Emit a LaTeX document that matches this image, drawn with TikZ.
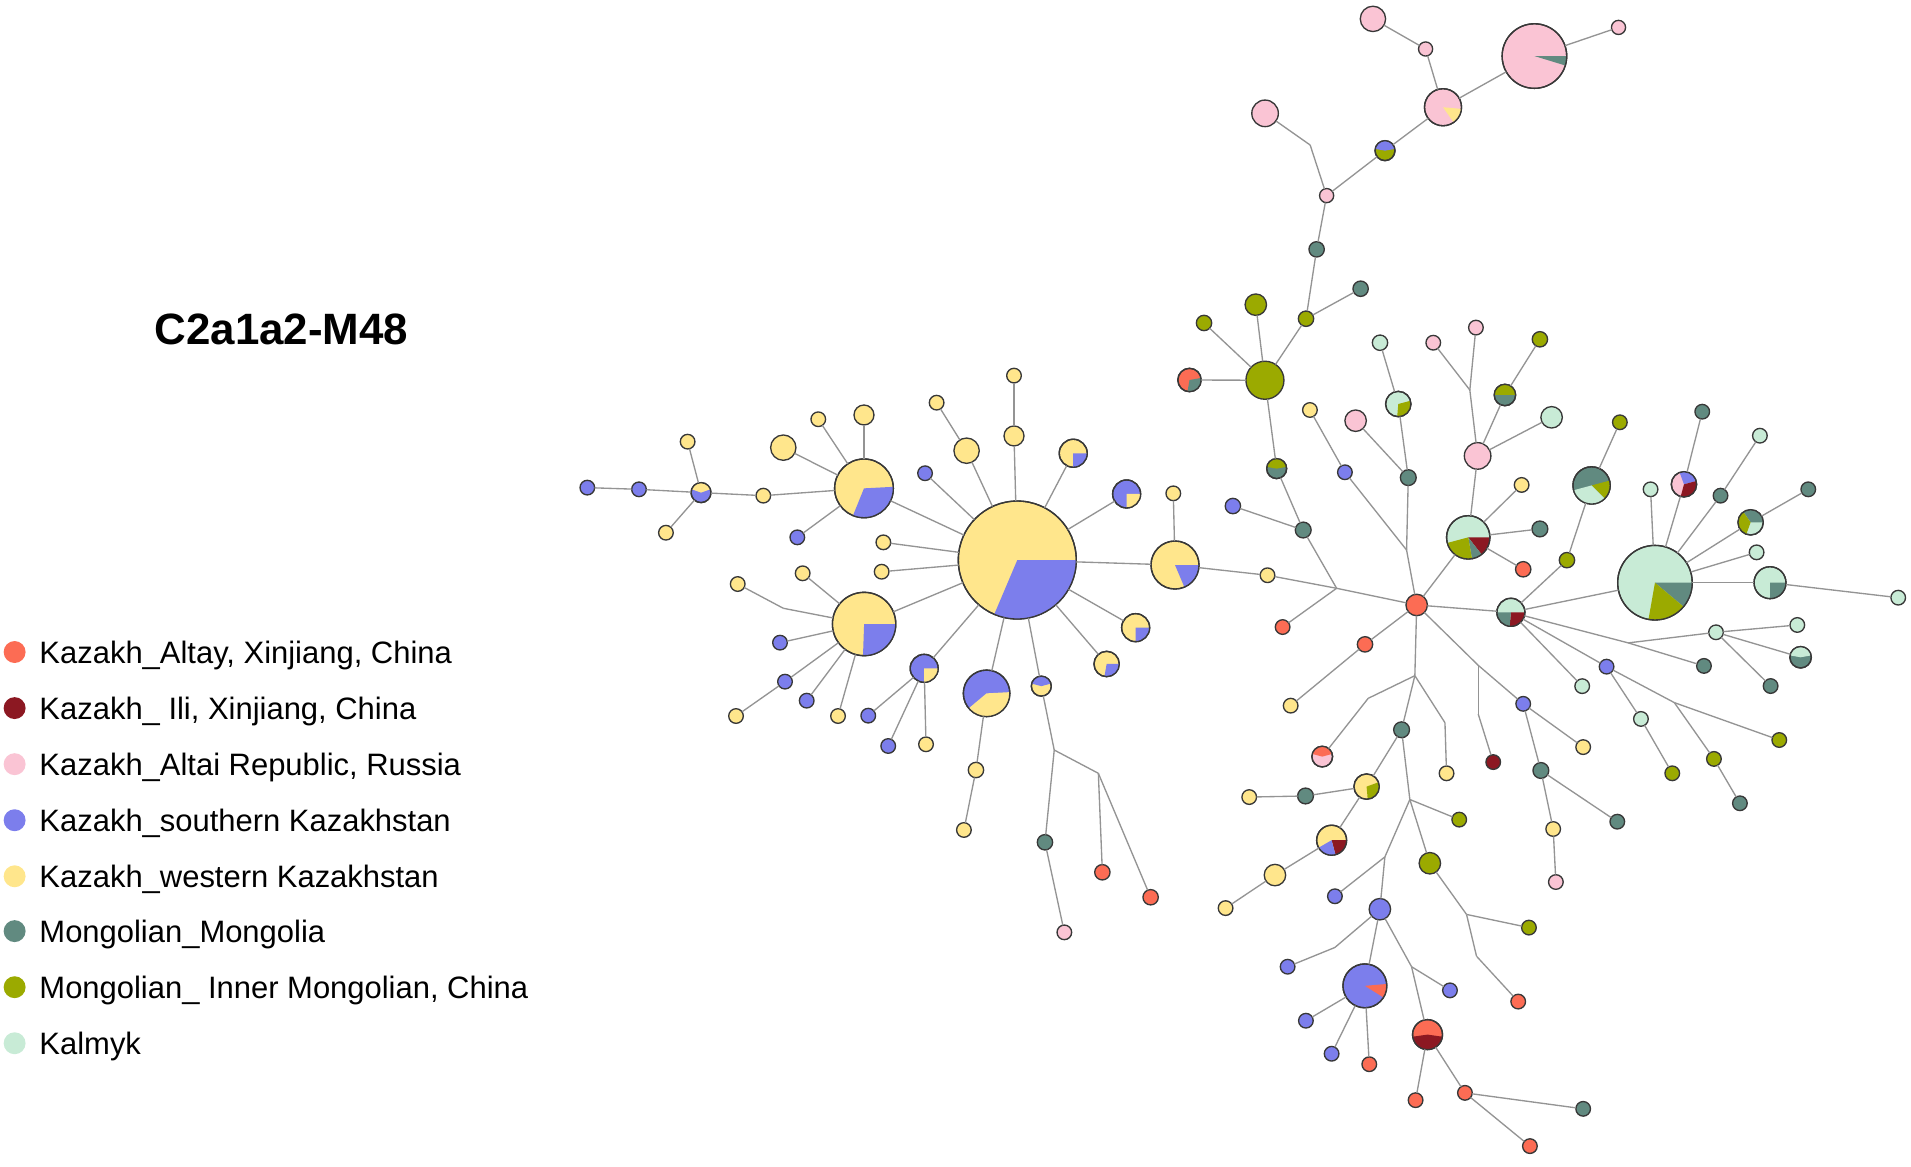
\documentclass[tikz,border=0pt]{standalone}
\usepackage{fontspec}
\setmainfont{Liberation Sans}
\definecolor{cAlt}{RGB}{252,108,84}
\definecolor{cIli}{RGB}{140,24,34}
\definecolor{cPnk}{RGB}{250,196,212}
\definecolor{cBlu}{RGB}{124,126,236}
\definecolor{cYel}{RGB}{255,230,140}
\definecolor{cMon}{RGB}{97,138,128}
\definecolor{cOli}{RGB}{155,170,0}
\definecolor{cKal}{RGB}{200,235,214}
\tikzset{
 hapnode/.style={circle,draw=black!78,line width=0.55pt,inner sep=0pt,outer sep=0pt},
 hapline/.style={draw=black!78,line width=0.55pt},
 edge/.style={draw=black!42,line width=0.55pt},
 legdot/.style={circle,inner sep=0pt,minimum size=9pt},
 legtext/.style={anchor=base west,font=\fontsize{12.7}{15}\selectfont,inner sep=0pt},
}
\newcommand\hap[5]{\node[hapnode,minimum size=#4pt,fill=#5] (#1) at (#2,#3) {};}
\newcommand\hpie[6]{\hap{#1}{#2}{#3}{#4}{#5}%
 \foreach \hc/\ha/\hb in {#6}{\fill[\hc] (#2,#3) -- ++(\ha:#4) arc[start angle=\ha,end angle=\hb,radius=#4] -- cycle;}%
 \draw[hapline] (#2,#3) circle[radius=#4];}
\begin{document}
\begin{tikzpicture}[x=0.5pt,y=-0.5pt]
\useasboundingbox (0,0) rectangle (1568,957);
% title
\node[anchor=base,font=\bfseries\fontsize{18}{22}\selectfont,inner sep=0pt] (title) at (231,283) {C2a1a2-M48};
% legend
\node[legdot,fill=cAlt] (L1) at (12,535) {};
\node[legtext] (T1) at (32,544) {Kazakh\_Altay, Xinjiang, China};
\node[legdot,fill=cIli] (L2) at (12,581) {};
\node[legtext] (T2) at (32,590) {Kazakh\_ Ili, Xinjiang, China};
\node[legdot,fill=cPnk] (L3) at (12,627) {};
\node[legtext] (T3) at (32,636) {Kazakh\_Altai Republic, Russia};
\node[legdot,fill=cBlu] (L4) at (12,673) {};
\node[legtext] (T4) at (32,682) {Kazakh\_southern Kazakhstan};
\node[legdot,fill=cYel] (L5) at (12,719) {};
\node[legtext] (T5) at (32,728) {Kazakh\_western Kazakhstan};
\node[legdot,fill=cMon] (L6) at (12,764) {};
\node[legtext] (T6) at (32,773) {Mongolian\_Mongolia};
\node[legdot,fill=cOli] (L7) at (12,810) {};
\node[legtext] (T7) at (32,819) {Mongolian\_ Inner Mongolian, China};
\node[legdot,fill=cKal] (L8) at (12,856) {};
\node[legtext] (T8) at (32,865) {Kalmyk};
% ---- top cluster
\hap{P1}{1126.5}{15.5}{10.4}{cPnk}
\hap{P2}{1169.7}{40.2}{5.8}{cPnk}
\hpie{P3}{1259}{46}{26.5}{cPnk}{cMon/0/17}
\hap{P4}{1328}{22.5}{5.8}{cPnk}
\hpie{P5}{1184}{88}{15.2}{cPnk}{cYel/5/55}
\hap{P6}{1038}{93}{10.9}{cPnk}
\coordinate (J1) at (1075,119);
\hap{P7}{1088.5}{160.5}{5.8}{cPnk}
\hpie{B1}{1136.4}{123.6}{8.2}{cOli}{cBlu/190/350}
\hap{M1}{1080.3}{204.6}{6.3}{cMon}
\hap{O1}{1071.6}{261.5}{6.3}{cOli}
\hap{M2}{1116.4}{236.9}{6.3}{cMon}
\hap{O2}{1030.4}{250}{8.8}{cOli}
\hap{O3}{987.9}{265}{6.3}{cOli}
\hap{O4}{1037.9}{312}{15.6}{cOli}
\hpie{R1}{976}{311.8}{9.6}{cAlt}{cMon/-10/100}
\hpie{MO1}{1047.5}{384.5}{8.2}{cMon}{cOli/190/350}
\hap{M3}{1069.3}{434.9}{6.5}{cMon}
\hap{Bl1}{1011.6}{415.2}{6.3}{cBlu}
\coordinate (J2) at (1096.7,482.7);
\hap{Y1}{1040}{472}{6}{cYel}
\hap{R2}{1052.4}{514.5}{6}{cAlt}
\hap{RC}{1162.4}{496.4}{8.8}{cAlt}
\hap{R3}{1120}{528.7}{6.3}{cAlt}
\hap{Y2}{1059}{579}{6}{cYel}
\hap{Y30}{1074.8}{336.4}{6}{cYel}
\hap{Bl2}{1103.5}{387.5}{6}{cBlu}
\coordinate (J3) at (1154.1,451.3);
\hap{M4}{1155.5}{391.9}{6.5}{cMon}
\hpie{KO1}{1147.3}{331.5}{10.4}{cKal}{cOli/-15/95}
\hap{K1}{1132.3}{281.2}{6.3}{cKal}
\hap{Pk1}{1112.3}{345.2}{8.8}{cPnk}
\hap{Pk2}{1176}{281.2}{6}{cPnk}
\hap{Pk3}{1211}{268.8}{6}{cPnk}
\coordinate (J4) at (1206,320);
\hap{Pk4}{1212.4}{374.1}{10.9}{cPnk}
\hpie{MO2}{1234.8}{324.1}{8.8}{cMon}{cOli/180/360}
\hap{O5}{1263.5}{278.4}{6.3}{cOli}
\hap{K2}{1273.1}{342.4}{8.8}{cKal}
\hpie{KMix}{1204.7}{440.9}{17.8}{cKal}{cIli/0/52,cMon/52/80,cOli/80/165}
\hap{Y3}{1248.5}{397.9}{6}{cYel}
\hap{M5}{1263.5}{434}{6.5}{cMon}
\hap{R4}{1249.8}{467.1}{6.3}{cAlt}
\hpie{KM2}{1239.7}{502.4}{11.5}{cKal}{cIli/0/95,cMon/95/180}
\hap{O6}{1285.7}{459.6}{6.3}{cOli}
\hpie{KMM}{1305.9}{398.3}{15.3}{cMon}{cOli/-15/45,cKal/45/165}
\hap{O10}{1329.1}{346.5}{6}{cOli}
\hpie{KB}{1357.9}{478.1}{30.6}{cKal}{cMon/0/40,cOli/40/100}
\hap{K4}{1354.3}{401.5}{6}{cKal}
\hpie{PBI}{1381.7}{397.4}{10.4}{cPnk}{cBlu/250/345,cIli/-15/105}
\hap{M11}{1396.7}{337.8}{6}{cMon}
\hap{M12}{1411.7}{406.7}{6}{cMon}
\hap{K5}{1444}{357.5}{6}{cKal}
\hpie{KOM}{1436.4}{428.6}{10.4}{cKal}{cMon/235/360,cOli/110/235}
\hap{M13}{1483.7}{401.5}{6}{cMon}
\hap{K6}{1441.3}{453.2}{6}{cKal}
\hpie{KM3}{1452.3}{478.1}{13.1}{cKal}{cMon/0/90}
\hap{K7}{1557.5}{490.4}{6}{cKal}
\coordinate (J16) at (1336,527.5);
\hap{K8}{1408}{518.8}{6}{cKal}
\hap{K9}{1474.7}{512.8}{6}{cKal}
\hpie{KM4}{1477.4}{539.3}{8.8}{cMon}{cKal/190/350}
\hap{M15}{1452.8}{562.9}{6}{cMon}
\hap{M14}{1398.1}{546.4}{6}{cMon}
\hap{Bl10}{1318.2}{547}{6}{cBlu}
\hap{K10}{1346.4}{589.9}{6}{cKal}
\hap{O11}{1372.1}{634.5}{6}{cOli}
\coordinate (J17) at (1373.8,576.5);
\hap{O12}{1459.9}{607.2}{6}{cOli}
\hap{O13}{1406.3}{622.7}{6}{cOli}
\hap{M16}{1427.6}{659.1}{6}{cMon}
\hap{K3}{1298.2}{563}{6}{cKal}
\coordinate (J5) at (1212.9,545.9);
\hap{Bl3}{1249.8}{577.5}{6}{cBlu}
\coordinate (J6) at (1212.9,585.9);
\hap{I1}{1225.2}{625.3}{6}{cIli}
\hap{Y4}{1299}{613}{6}{cYel}
\hap{M6}{1264.3}{632.2}{6.5}{cMon}
\hap{M7}{1327}{674.2}{6}{cMon}
\hap{Y5}{1274.4}{680.2}{6}{cYel}
\hap{Pk5}{1276.6}{723.7}{6}{cPnk}
% ---- lower cluster
\coordinate (J7) at (1160.9,554.4);
\coordinate (J8) at (1122.6,573);
\hpie{PR1}{1084.9}{620.8}{8.5}{cPnk}{cAlt/195/345}
\coordinate (J9) at (1185.6,593);
\hap{Y6}{1186.9}{634.5}{6}{cYel}
\hap{M8}{1150}{598.8}{6.5}{cMon}
\hpie{YO}{1121.3}{645.4}{10.4}{cYel}{cOli/-20/85}
\hap{M9}{1071.2}{653.1}{6.5}{cMon}
\hap{Y7}{1025}{654}{6}{cYel}
\hpie{YBI}{1092.6}{689.4}{12.3}{cYel}{cIli/0/75,cBlu/75/150}
\hap{Y8}{1046.1}{718}{8.8}{cYel}
\hap{Y9}{1005.6}{745.1}{6}{cYel}
\coordinate (J10) at (1156.8,656);
\hap{O7}{1197.3}{672.5}{6}{cOli}
\hap{O8}{1173.2}{708.3}{8.8}{cOli}
\coordinate (J11) at (1136.3,703.1);
\hap{Bl4}{1095.3}{735.4}{6}{cBlu}
\hap{Bl5}{1132.2}{746}{8.8}{cBlu}
\coordinate (J12) at (1203.3,750.3);
\hap{O9}{1254.5}{761.1}{6}{cOli}
\coordinate (J13) at (1211.5,784.6);
\hap{R5}{1245.7}{821.8}{6}{cAlt}
\coordinate (J14) at (1095.3,777.4);
\hap{Bl6}{1056.5}{793.2}{6}{cBlu}
\hpie{BB}{1119.9}{808.9}{18}{cBlu}{cAlt/-5/32}
\hap{Bl7}{1071.5}{837.5}{6}{cBlu}
\hap{Bl8}{1092.6}{864.6}{6}{cBlu}
\hap{R6}{1123.5}{873.2}{6}{cAlt}
\coordinate (J15) at (1158.2,793.2);
\hap{Bl9}{1189.7}{812.6}{6}{cBlu}
\hpie{RI}{1171.3}{848.9}{12.3}{cAlt}{cIli/8/172}
\hap{R7}{1161.5}{902.7}{6}{cAlt}
\hap{R8}{1202}{896.7}{6}{cAlt}
\hap{M10}{1299}{909.8}{6}{cMon}
\hap{R9}{1255.3}{940.4}{6}{cAlt}
% ---- left cluster
\hpie{BY}{834.7}{459.5}{48.4}{cYel}{cBlu/0/113}
\hap{Y10}{832}{308.2}{6}{cYel}
\hap{Y11}{832}{357.7}{8.2}{cYel}
\hap{Y12}{793.1}{369.8}{10.4}{cYel}
\hap{Y13}{768.5}{330.4}{6}{cYel}
\hap{Bl11}{759}{388.3}{6}{cBlu}
\hpie{YB1}{880.6}{371.9}{11.5}{cYel}{cBlu/0/90}
\hpie{BY2}{924.4}{405.3}{11.5}{cBlu}{cYel/0/90}
\hpie{YB2}{964.1}{463.6}{19.7}{cYel}{cBlu/0/67}
\hap{Y14}{962.7}{404.8}{6}{cYel}
\hpie{YB3}{931.8}{515}{11.5}{cYel}{cBlu/0/90}
\hpie{YB4}{908}{544.8}{10.4}{cYel}{cBlu/0/100}
\hpie{BlY1}{758.3}{548.4}{11.5}{cBlu}{cYel/0/90}
\hpie{BlY2}{809.5}{568.9}{19.1}{cBlu}{cYel/-3/140}
\hpie{BlY3}{854.4}{563}{8.2}{cYel}{cBlu/195/345}
\hpie{YBL}{708.9}{400.7}{24.1}{cYel}{cBlu/-3/112}
\hap{Y15}{708.9}{340.5}{8.2}{cYel}
\hap{Y16}{671.4}{344}{6}{cYel}
\hap{Y17}{642.7}{367.3}{10.4}{cYel}
\hap{Y18}{626.3}{406.7}{6}{cYel}
\hpie{BlYt}{575.2}{404.2}{8.2}{cBlu}{cYel/200/340}
\hap{Y19}{564.2}{362.4}{6}{cYel}
\hap{Y20}{546.4}{437.1}{6}{cYel}
\hap{Bl12}{524.3}{401.5}{6}{cBlu}
\hap{Bl13}{481.9}{400.1}{6}{cBlu}
\hap{Bl14}{654.2}{440.9}{6}{cBlu}
\hap{Y21}{724.8}{445}{6}{cYel}
\hap{Y22}{723.4}{469.1}{6}{cYel}
\hpie{YBL2}{709}{512}{26}{cYel}{cBlu/0/92}
\hap{Y23}{658.6}{470.4}{6}{cYel}
\coordinate (J20) at (642.7,499.1);
\hap{Y24}{605.3}{479.2}{6}{cYel}
\hap{Bl15}{640}{527.3}{6}{cBlu}
\hap{Bl16}{644.1}{559.3}{6}{cBlu}
\hap{Y25}{603.9}{587.5}{6}{cYel}
\hap{Bl17}{661.9}{574.9}{6}{cBlu}
\hap{Y26}{687.6}{587.5}{6}{cYel}
\hap{Bl18}{712.4}{587.2}{6}{cBlu}
\hap{Bl19}{728.8}{612.1}{6}{cBlu}
\hap{Y27}{759.8}{610.7}{6}{cYel}
\hap{Y28}{800.8}{631.8}{6.3}{cYel}
\hap{Y29}{790.9}{681}{6}{cYel}
\coordinate (J18) at (865,615.4);
\hap{M17}{857.4}{691.1}{6.3}{cMon}
\hap{Pk6}{873.3}{765}{6}{cPnk}
\coordinate (J19) at (901.2,634.5);
\hap{R10}{904.5}{715.7}{6.3}{cAlt}
\hap{R11}{944.1}{736.2}{6.3}{cAlt}
% ---- connectors
\foreach \u/\v in {P1/P2,P2/P5,P5/P3,P3/P4,P5/B1,B1/P7,P6/J1,J1/P7,P7/M1,M1/O1,O1/M2,O1/O4,O2/O4,O3/O4,R1/O4,O4/MO1,MO1/M3,Bl1/M3,M3/J2,Y1/J2,R2/J2,J2/RC,YB2/Y1,
 Y30/Bl2,Bl2/J3,J3/RC,M4/J3,Pk1/M4,KO1/M4,K1/KO1,Pk2/J4,Pk3/J4,J4/Pk4,Pk4/MO2,MO2/O5,Pk4/K2,Pk4/KMix,KMix/RC,KMix/Y3,KMix/M5,KMix/R4,
 RC/KM2,KM2/O6,O6/KMM,KMM/O10,KM2/KB,KM2/J16,J16/M14,J16/K8,K8/K9,K8/KM4,K8/M15,KM2/Bl10,Bl10/K10,K10/O11,Bl10/J17,J17/O12,J17/O13,O13/M16,KM2/K3,KB/K4,KB/PBI,PBI/M11,KB/M12,M12/K5,KB/KOM,KOM/M13,KB/K6,KB/KM3,KM3/K7,
 RC/J5,J5/Bl3,J5/J6,J6/I1,Bl3/Y4,Bl3/M6,M6/M7,M6/Y5,Y5/Pk5,RC/R3,R3/Y2,
 RC/J7,J7/J8,J8/PR1,J7/J9,J9/Y6,J7/M8,M8/YO,YO/M9,M9/Y7,YO/YBI,YBI/Y8,Y8/Y9,M8/J10,J10/O7,J10/O8,J10/J11,J11/Bl4,J11/Bl5,O8/J12,J12/O9,J12/J13,J13/R5,Bl5/J14,J14/Bl6,Bl5/BB,BB/Bl7,BB/Bl8,BB/R6,Bl5/J15,J15/Bl9,J15/RI,RI/R7,RI/R8,R8/M10,R8/R9,
 BY/YBL,YBL/Y15,YBL/Y16,YBL/Y17,YBL/Y18,Y18/BlYt,BlYt/Y19,BlYt/Y20,BlYt/Bl12,Bl12/Bl13,YBL/Bl14,BY/Y21,BY/Y22,BY/YBL2,YBL2/Y23,YBL2/J20,J20/Y24,YBL2/Bl15,YBL2/Bl16,Bl16/Y25,YBL2/Bl17,YBL2/Y26,
 BY/BlY1,BlY1/Bl18,BlY1/Bl19,BlY1/Y27,BY/BlY2,BlY2/Y28,Y28/Y29,BY/BlY3,BlY3/J18,J18/M17,M17/Pk6,J18/J19,J19/R10,J19/R11,
 BY/YB4,BY/YB3,BY/YB2,BY/BY2,BY/YB1,BY/Y11,Y11/Y10,BY/Y12,Y12/Y13,BY/Bl11,YB2/Y14}
 {\draw[edge] (\u) -- (\v);}
\end{tikzpicture}
\end{document}
